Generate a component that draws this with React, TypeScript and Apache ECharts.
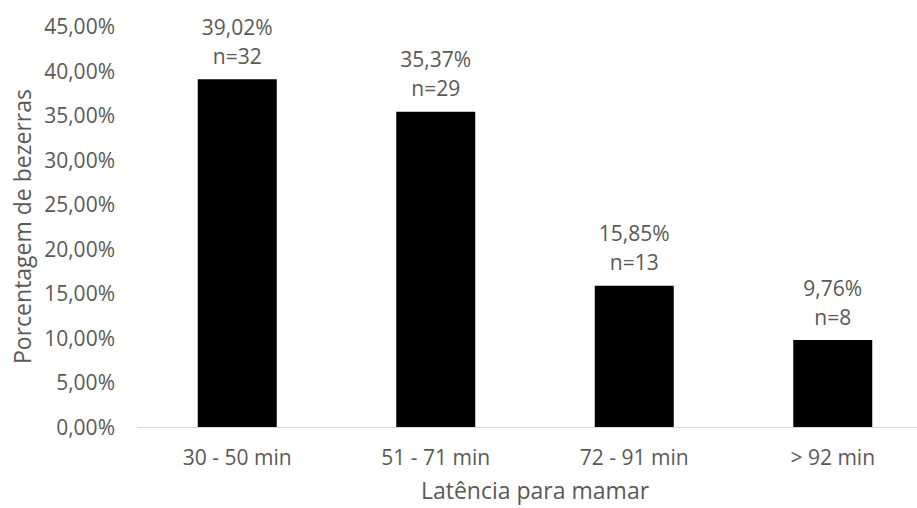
import React, { useEffect, useRef } from "react";
import * as echarts from "echarts";

const categories = ["30 - 50 min", "51 - 71 min", "72 - 91 min", "> 92 min"];
const percentages = [39.02, 35.37, 15.85, 9.76];
const counts = [32, 29, 13, 8];

const yAxisTitle = "Porcentagem de bezerras";
const xAxisTitle = "Latência para mamar";

const FONT = "'Open Sans', sans-serif";
const TEXT = "#595959";

const fmtPct = (v: number) => v.toFixed(2).replace(".", ",") + "%";

export default function App() {
  const ref = useRef<HTMLDivElement>(null);

  useEffect(() => {
    if (!ref.current) return;
    const chart = echarts.init(ref.current, undefined, { renderer: "svg" });
    // the plot area runs a little past the visible right edge
    const gridLeft = 138;
    const gridTop = 26;
    const gridWidth = 794;
    const gridHeight = 401;

    chart.setOption({
      animation: false,
      backgroundColor: "#ffffff",
      textStyle: { fontFamily: FONT },
      grid: { left: gridLeft, top: gridTop, width: gridWidth, height: gridHeight, containLabel: false },
      xAxis: {
        type: "category",
        data: categories,
        axisLine: { show: true, lineStyle: { color: "#d9d9d9", width: 1 } },
        axisTick: { show: false },
        axisLabel: { color: TEXT, fontSize: 21, fontFamily: FONT, margin: 19 },
        splitLine: { show: false },
      },
      yAxis: {
        type: "value",
        min: 0,
        max: 45,
        interval: 5,
        axisLine: { show: false },
        axisTick: { show: false },
        splitLine: { show: false },
        axisLabel: {
          color: TEXT,
          fontSize: 21,
          fontFamily: FONT,
          margin: 23,
          formatter: (v: number) => fmtPct(v),
        },
      },
      series: [
        {
          type: "bar",
          data: percentages,
          barWidth: 79,
          itemStyle: { color: "#000000" },
          label: {
            show: true,
            position: "top",
            distance: 9,
            color: TEXT,
            fontSize: 21,
            fontFamily: FONT,
            lineHeight: 29,
            align: "center",
            formatter: (p: any) => fmtPct(p.value) + "\nn=" + counts[p.dataIndex],
          },
        },
      ],
      graphic: [
        {
          type: "text",
          x: 22,
          y: gridTop + gridHeight / 2,
          rotation: Math.PI / 2,
          style: {
            text: yAxisTitle,
            fill: TEXT,
            font: `23px ${FONT}`,
            textAlign: "center",
            textVerticalAlign: "middle",
          },
        },
        {
          type: "text",
          x: gridLeft + gridWidth / 2,
          y: 490,
          style: {
            text: xAxisTitle,
            fill: TEXT,
            font: `23px ${FONT}`,
            textAlign: "center",
            textVerticalAlign: "middle",
          },
        },
      ],
    });

    return () => chart.dispose();
  }, []);

  return (
    <div style={{ width: 917, height: 508, position: "absolute", left: 0, top: 0, overflow: "hidden", background: "#fff" }}>
      <div ref={ref} style={{ width: 940, height: 508 }} />
    </div>
  );
}
